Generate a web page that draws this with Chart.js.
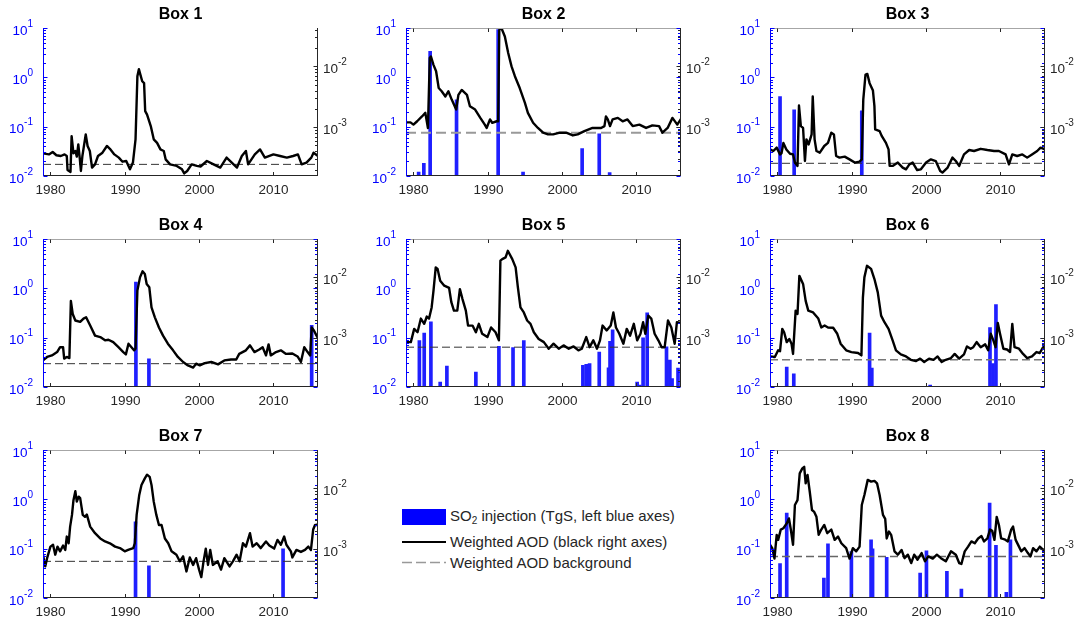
<!DOCTYPE html>
<html lang="en">
<head>
<meta charset="UTF-8" />
<title>SO2 injection and weighted AOD - Box 1 to 8</title>
<style>
  body {
    margin: 0;
    background: #fff;
    width: 1088px;
    height: 621px;
    position: relative;
    overflow: hidden;
    font-family: "Liberation Sans", Arial, Helvetica, sans-serif;
  }
  canvas { position: absolute; }
  .key { position: absolute; left: 402px; width: 44px; }
  .lbl {
    position: absolute;
    left: 450px;
    font-size: 15px;
    line-height: 18px;
    color: #262626;
    white-space: nowrap;
  }
  .lbl sub { font-size: 10px; vertical-align: -3px; line-height: 0; }
</style>
</head>
<body>
  <div class="key" style="top:509px;height:16px;background:#0000ff;"></div>
  <div class="lbl" style="top:507px;">SO<sub>2</sub> injection (TgS, left blue axes)</div>
  <div class="key" style="top:541px;height:2px;background:#000;"></div>
  <div class="lbl" style="top:533px;">Weighted AOD (black right axes)</div>
  <svg class="key" style="top:558px;height:8px;" width="44" height="8">
    <line x1="0" y1="4.5" x2="44" y2="4.5" stroke="#999" stroke-width="1.5" stroke-dasharray="10 4" />
  </svg>
  <div class="lbl" style="top:554px;">Weighted AOD background</div>

<script src="https://cdn.jsdelivr.net/npm/chart.js"></script>
<script>
  // tick labels
  const yearTicks = [1980, 1990, 2000, 2010];
  const leftExps = [-2, -1, 0, 1];     // SO2 axis, 10^-2 .. 10^1 TgS
  const rightExps = [-3, -2];          // AOD axis labels
  const mantissas = [1, 2, 3, 4, 5, 6, 7, 8, 9];

  // weighted AOD, [year, AOD]
  const box1Aod = [[1979.0,3.7e-4],[1979.8,3.56e-4],[1980.3,3.9e-4],[1980.8,3.45e-4],[1981.4,3.35e-4],[1981.9,3.56e-4],[1982.2,3.35e-4],[1982.3,1.97e-4],[1982.7,1.83e-4],[1982.85,7.1e-4],[1983.1,3.7e-4],[1983.35,4.05e-4],[1983.55,3.27e-4],[1983.75,5.2e-4],[1983.95,3.03e-4],[1984.1,1.9e-4],[1984.3,3.35e-4],[1984.75,7.6e-4],[1985.0,4.9e-4],[1985.3,4.05e-4],[1985.6,2.16e-4],[1986.0,2.44e-4],[1986.4,3.35e-4],[1987.0,3.8e-4],[1987.6,4.9e-4],[1988.0,4.4e-4],[1988.6,3.56e-4],[1989.2,3.15e-4],[1989.7,2.7e-4],[1990.2,2.77e-4],[1990.7,2.02e-4],[1991.1,2.61e-4],[1991.45,6.3e-4],[1991.7,6.9e-3],[1991.9,9.0e-3],[1992.1,7.3e-3],[1992.35,5.7e-3],[1992.6,5.3e-3],[1992.75,1.83e-3],[1993.0,1.61e-3],[1993.5,1.04e-3],[1993.9,6.3e-4],[1994.35,5.5e-4],[1994.8,4.3e-4],[1995.25,4.05e-4],[1995.5,2.95e-4],[1996.1,2.44e-4],[1997.0,2.3e-4],[1997.7,2.02e-4],[1998.0,1.73e-4],[1998.4,1.9e-4],[1999.0,2.44e-4],[1999.7,2.3e-4],[2000.2,2.25e-4],[2001.05,2.77e-4],[2001.95,2.44e-4],[2002.85,2.16e-4],[2003.7,3.15e-4],[2004.4,2.61e-4],[2005.1,2.16e-4],[2005.75,3.35e-4],[2006.3,4.05e-4],[2006.6,2.44e-4],[2007.5,3.56e-4],[2008.2,4.3e-4],[2008.85,3.15e-4],[2010.0,3.56e-4],[2010.9,3.35e-4],[2011.8,3.15e-4],[2012.65,3.35e-4],[2013.3,3.56e-4],[2013.8,2.44e-4],[2014.45,2.61e-4],[2015.1,3.15e-4],[2015.4,3.8e-4],[2016.0,3.35e-4]];
  const box2Aod = [[1979.0,1.2e-3],[1979.6,1.2e-3],[1980.0,1.1e-3],[1980.5,1.25e-3],[1981.15,1.5e-3],[1981.6,1.72e-3],[1981.95,9.7e-4],[1982.2,1.38e-2],[1982.35,1.46e-2],[1982.7,1.06e-2],[1983.05,8.3e-3],[1983.4,4.4e-3],[1983.8,3.9e-3],[1984.3,3.2e-3],[1984.7,3.9e-3],[1985.15,2.84e-3],[1985.75,1.95e-3],[1986.05,3.4e-3],[1986.5,4.1e-3],[1987.2,3.4e-3],[1987.6,2.21e-3],[1988.3,1.95e-3],[1989.0,1.42e-3],[1989.6,1.1e-3],[1989.85,9.7e-4],[1990.3,1.34e-3],[1990.6,1.18e-3],[1991.2,1.25e-3],[1991.4,1.25e-3],[1991.55,3.99e-2],[1991.85,4.25e-2],[1992.3,3.1e-2],[1992.75,1.66e-2],[1993.2,1.0e-2],[1993.65,6.9e-3],[1994.3,4.4e-3],[1995.0,2.5e-3],[1995.4,1.72e-3],[1996.1,1.18e-3],[1996.75,9.7e-4],[1997.45,8.1e-4],[1998.1,7.6e-4],[1998.8,7.6e-4],[1999.7,8.1e-4],[2000.55,8.1e-4],[2001.45,7.3e-4],[2002.1,7.6e-4],[2003.0,8.6e-4],[2004.1,9.7e-4],[2005.25,9.7e-4],[2005.7,1.04e-3],[2005.9,1.5e-3],[2006.15,1.34e-3],[2006.45,1.04e-3],[2006.8,1.34e-3],[2007.5,1.42e-3],[2008.15,1.25e-3],[2008.8,1.34e-3],[2009.5,1.04e-3],[2010.4,1.1e-3],[2011.3,9.7e-4],[2012.15,1.07e-3],[2013.05,1.04e-3],[2013.5,8.1e-4],[2014.2,9.7e-4],[2014.85,1.42e-3],[2015.5,1.1e-3],[2016.0,1.37e-3]];
  const box3Aod = [[1979.0,4.3e-4],[1979.45,4.05e-4],[1979.9,4.6e-4],[1980.35,3.56e-4],[1980.55,3.7e-4],[1980.8,5.5e-4],[1981.2,4.3e-4],[1981.7,3.65e-4],[1982.1,3.56e-4],[1982.35,2.61e-4],[1982.7,2.3e-4],[1982.9,2.27e-3],[1983.15,1.04e-3],[1983.45,9.7e-4],[1983.7,2.77e-4],[1983.9,6.3e-4],[1984.2,5.2e-4],[1984.6,7.6e-4],[1984.75,3.2e-3],[1985.0,6.3e-4],[1985.25,4.05e-4],[1985.7,3.8e-4],[1986.3,4.9e-4],[1986.8,5.5e-4],[1987.25,8.1e-4],[1987.6,7.6e-4],[1987.9,3.35e-4],[1988.35,3.15e-4],[1989.05,3.27e-4],[1989.7,2.95e-4],[1990.4,2.61e-4],[1991.05,2.7e-4],[1991.35,2.95e-4],[1991.55,2.84e-3],[1991.85,7.3e-3],[1992.1,7.5e-3],[1992.4,5.3e-3],[1992.85,4.0e-3],[1993.05,2.21e-3],[1993.15,9.2e-4],[1993.75,8.6e-4],[1994.05,7.1e-4],[1994.6,5.5e-4],[1994.95,4.3e-4],[1995.1,2.3e-4],[1995.5,2.3e-4],[1996.2,2.61e-4],[1996.85,2.16e-4],[1997.3,2.02e-4],[1997.75,2.44e-4],[1998.2,2.61e-4],[1998.8,1.97e-4],[1999.3,2.02e-4],[2000.0,2.61e-4],[2000.65,2.95e-4],[2001.3,2.77e-4],[2001.9,1.9e-4],[2002.2,1.79e-4],[2002.9,2.16e-4],[2003.55,3.15e-4],[2004.0,2.77e-4],[2004.45,2.3e-4],[2005.1,3.56e-4],[2005.8,4.2e-4],[2006.45,4.05e-4],[2007.35,4.4e-4],[2008.25,4.2e-4],[2009.15,4.05e-4],[2009.8,4.05e-4],[2010.7,3.56e-4],[2011.15,2.44e-4],[2011.6,3.56e-4],[2012.25,3.35e-4],[2012.95,3.56e-4],[2013.6,3.15e-4],[2014.25,3.56e-4],[2014.95,4.05e-4],[2015.4,4.6e-4],[2016.0,4.3e-4]];
  const box4Aod = [[1979.0,4.3e-4],[1979.55,4.9e-4],[1980.2,5.2e-4],[1980.9,5.9e-4],[1981.3,7.1e-4],[1981.7,7.1e-4],[1981.85,4.6e-4],[1982.2,4.9e-4],[1982.55,4.7e-4],[1982.75,4.1e-3],[1983.0,2.5e-3],[1983.35,1.95e-3],[1984.0,1.85e-3],[1984.45,2.1e-3],[1984.8,2.21e-3],[1985.35,1.61e-3],[1986.0,1.1e-3],[1986.7,1.04e-3],[1987.35,9.2e-4],[1987.8,9.4e-4],[1988.45,8.6e-4],[1989.15,7.1e-4],[1989.8,5.9e-4],[1990.15,5.4e-4],[1990.5,8.1e-4],[1990.9,7.1e-4],[1991.25,6.3e-4],[1991.45,6.7e-4],[1991.7,6.05e-3],[1992.05,1.0e-2],[1992.4,1.26e-2],[1992.7,1.14e-2],[1992.95,7.8e-3],[1993.3,6.9e-3],[1993.6,3.2e-3],[1994.05,2.2e-3],[1994.6,1.5e-3],[1995.15,1.1e-3],[1995.8,8.1e-4],[1996.5,6.3e-4],[1997.15,4.9e-4],[1997.85,4.05e-4],[1998.5,3.56e-4],[1999.2,3.27e-4],[1999.6,3.8e-4],[2000.1,3.56e-4],[2000.75,3.87e-4],[2001.65,4.05e-4],[2002.55,3.7e-4],[2003.4,4.3e-4],[2004.3,4.45e-4],[2005.0,4.45e-4],[2005.4,5.5e-4],[2006.3,6.3e-4],[2006.85,7.6e-4],[2007.45,5.9e-4],[2008.1,6.5e-4],[2008.55,7.1e-4],[2009.0,5.2e-4],[2009.35,7.9e-4],[2009.65,5.2e-4],[2010.35,5.9e-4],[2011.0,6.3e-4],[2011.7,5.5e-4],[2012.55,5.6e-4],[2013.25,5.0e-4],[2013.7,4.05e-4],[2014.15,7.1e-4],[2014.6,5.9e-4],[2014.95,5.2e-4],[2015.15,1.5e-3],[2015.45,1.34e-3],[2015.8,1.1e-3],[2016.0,1.0e-3]];
  const box5Aod = [[1979.0,8.6e-4],[1979.65,8.6e-4],[1980.1,1.42e-3],[1980.55,1.25e-3],[1981.0,2.1e-3],[1981.45,1.72e-3],[1981.8,2.27e-3],[1982.1,2.1e-3],[1982.45,3.2e-3],[1982.7,6.05e-3],[1983.0,1.46e-2],[1983.25,1.38e-2],[1983.6,8.8e-3],[1984.15,7.3e-3],[1984.8,6.7e-3],[1985.1,3.9e-3],[1985.45,2.84e-3],[1985.9,2.84e-3],[1986.25,6.4e-3],[1986.6,4.4e-3],[1987.05,2.84e-3],[1987.35,1.61e-3],[1987.95,1.61e-3],[1988.4,1.25e-3],[1988.8,1.72e-3],[1989.25,1.18e-3],[1989.95,1.04e-3],[1990.45,1.5e-3],[1991.05,1.25e-3],[1991.5,9.2e-4],[1991.7,1.88e-2],[1991.95,2.0e-2],[1992.4,2.13e-2],[1992.7,2.74e-2],[1993.3,2.0e-2],[1993.75,1.46e-2],[1994.05,6.9e-3],[1994.4,3.2e-3],[1994.85,2.65e-3],[1995.3,1.95e-3],[1995.75,1.72e-3],[1996.2,1.25e-3],[1996.85,9.7e-4],[1997.55,8.6e-4],[1998.2,6.7e-4],[1998.85,8.1e-4],[1999.55,6.7e-4],[2000.2,7.6e-4],[2000.9,6.7e-4],[2001.55,7.3e-4],[2002.2,6.3e-4],[2002.65,6.7e-4],[2003.25,1.04e-3],[2003.7,7.1e-4],[2004.2,9.2e-4],[2004.7,6.7e-4],[2005.1,9.2e-4],[2005.45,1.61e-3],[2006.0,1.34e-3],[2006.55,1.61e-3],[2006.9,2.65e-3],[2007.25,1.5e-3],[2007.7,1.18e-3],[2008.25,8.1e-4],[2008.7,1.42e-3],[2009.15,1.1e-3],[2009.65,1.72e-3],[2010.1,9.2e-4],[2010.55,1.18e-3],[2010.9,1.83e-3],[2011.2,1.18e-3],[2011.6,2.35e-3],[2012.0,2.1e-3],[2012.45,1.18e-3],[2012.95,9.2e-4],[2013.4,7.1e-4],[2013.8,7.1e-4],[2014.25,1.95e-3],[2014.7,1.5e-3],[2015.15,8.1e-4],[2015.45,1.83e-3],[2016.0,1.78e-3]];
  const box6Aod = [[1979.0,5.0e-4],[1979.65,4.9e-4],[1980.1,6.3e-4],[1980.35,6.1e-4],[1980.65,1.42e-3],[1980.9,1.25e-3],[1981.25,8.6e-4],[1981.6,9.7e-4],[1981.9,8.1e-4],[1982.1,5.5e-4],[1982.45,2.84e-3],[1982.7,2.5e-3],[1982.95,1.06e-2],[1983.25,8.8e-3],[1983.45,7.8e-3],[1983.8,4.1e-3],[1984.15,2.84e-3],[1984.8,2.65e-3],[1985.5,2.1e-3],[1985.9,1.5e-3],[1986.35,1.61e-3],[1986.8,1.5e-3],[1987.5,1.48e-3],[1988.05,1.18e-3],[1988.5,8.1e-4],[1989.25,6.3e-4],[1989.95,5.9e-4],[1990.85,5.7e-4],[1991.3,5.2e-4],[1991.5,4.7e-3],[1991.7,1.0e-2],[1992.05,1.55e-2],[1992.6,1.38e-2],[1993.05,9.4e-3],[1993.5,5.67e-3],[1993.95,2.35e-3],[1994.4,1.83e-3],[1994.95,1.42e-3],[1995.5,9.2e-4],[1995.95,6.3e-4],[1996.6,5.4e-4],[1997.3,5.0e-4],[1997.95,4.4e-4],[1998.65,4.2e-4],[1999.2,4.6e-4],[1999.75,4.05e-4],[2000.4,4.6e-4],[2001.0,4.4e-4],[2001.55,5.0e-4],[2002.1,4.05e-4],[2002.65,4.4e-4],[2003.35,4.7e-4],[2003.85,5.5e-4],[2004.45,4.6e-4],[2005.1,5.4e-4],[2005.5,7.3e-4],[2006.0,6.7e-4],[2006.35,7.1e-4],[2006.8,8.6e-4],[2007.35,7.1e-4],[2007.95,7.9e-4],[2008.35,6.3e-4],[2008.7,1.18e-3],[2009.05,9.2e-4],[2009.35,7.1e-4],[2009.65,1.78e-3],[2009.95,1.18e-3],[2010.4,6.7e-4],[2010.9,6.5e-4],[2011.3,5.9e-4],[2011.6,1.72e-3],[2011.9,7.1e-4],[2012.5,6.7e-4],[2013.05,5.5e-4],[2013.6,4.7e-4],[2014.25,5.0e-4],[2014.85,5.9e-4],[2015.3,5.7e-4],[2015.75,7.1e-4],[2016.0,7.0e-4]];
  const box7Aod = [[1979.0,8.1e-4],[1979.3,5.2e-4],[1979.55,7.1e-4],[1980.0,1.1e-3],[1980.35,1.18e-3],[1980.65,8.1e-4],[1980.95,1.1e-3],[1981.3,9.2e-4],[1981.7,1.15e-3],[1982.0,9.7e-4],[1982.2,1.61e-3],[1982.45,1.25e-3],[1982.65,2.35e-3],[1982.9,3.66e-3],[1983.1,6.4e-3],[1983.35,9.0e-3],[1983.55,6.05e-3],[1983.8,7.3e-3],[1984.0,6.9e-3],[1984.35,3.66e-3],[1984.65,3.4e-3],[1984.9,3.7e-3],[1985.35,2.35e-3],[1986.0,1.83e-3],[1986.7,1.5e-3],[1987.35,1.34e-3],[1988.0,1.25e-3],[1988.7,1.1e-3],[1989.35,1.04e-3],[1990.0,9.2e-4],[1990.45,9.7e-4],[1991.15,1.04e-3],[1991.35,1.25e-3],[1991.6,3.66e-3],[1991.95,7.8e-3],[1992.25,1.14e-2],[1992.7,1.46e-2],[1993.0,1.68e-2],[1993.35,1.55e-2],[1993.6,1.14e-2],[1993.9,6.05e-3],[1994.25,3.66e-3],[1994.6,2.5e-3],[1994.95,2.5e-3],[1995.4,1.5e-3],[1995.85,1.25e-3],[1996.3,9.2e-4],[1996.95,8.1e-4],[1997.4,6.3e-4],[1997.85,7.6e-4],[1998.3,4.3e-4],[1998.75,7.3e-4],[1999.2,5.5e-4],[1999.6,7.1e-4],[2000.0,4.6e-4],[2000.3,3.47e-4],[2000.6,6.3e-4],[2000.9,1.02e-3],[2001.2,5.5e-4],[2001.5,9.7e-4],[2001.85,5.5e-4],[2002.5,6.3e-4],[2002.95,4.6e-4],[2003.4,7.1e-4],[2004.1,5.2e-4],[2004.55,6.3e-4],[2005.05,8.1e-4],[2005.45,6.3e-4],[2005.9,1.25e-3],[2006.3,1.1e-3],[2006.85,1.83e-3],[2007.2,1.1e-3],[2007.75,1.25e-3],[2008.3,1.04e-3],[2009.0,1.34e-3],[2009.45,1.15e-3],[2010.1,1.02e-3],[2010.55,1.42e-3],[2011.0,1.18e-3],[2011.45,1.61e-3],[2011.75,1.18e-3],[2012.35,9.2e-4],[2012.55,7.3e-4],[2013.1,9.7e-4],[2013.7,9.0e-4],[2014.25,9.7e-4],[2014.7,1.1e-3],[2015.05,9.7e-4],[2015.35,2.1e-3],[2015.6,2.5e-3],[2015.8,2.5e-3],[2016.0,2.6e-3]];
  const box8Aod = [[1979.0,1.18e-3],[1979.3,1.04e-3],[1979.6,7.0e-4],[1979.9,1.72e-3],[1980.1,1.42e-3],[1980.45,2.1e-3],[1980.8,2.21e-3],[1981.25,2.65e-3],[1981.55,3.2e-3],[1981.8,2.1e-3],[1982.1,1.18e-3],[1982.35,5.33e-3],[1982.7,6.4e-3],[1983.0,1.77e-2],[1983.35,2.13e-2],[1983.6,2.26e-2],[1983.8,1.21e-2],[1984.05,1.66e-2],[1984.35,8.8e-3],[1984.65,4.4e-3],[1984.95,4.1e-3],[1985.25,3.4e-3],[1985.55,1.72e-3],[1985.9,2.1e-3],[1986.3,2.5e-3],[1986.7,1.83e-3],[1987.25,2.1e-3],[1987.7,1.42e-3],[1988.15,1.61e-3],[1988.6,1.25e-3],[1989.25,1.04e-3],[1989.7,7.0e-4],[1990.15,1.04e-3],[1990.6,9.2e-4],[1991.05,1.1e-3],[1991.35,5.33e-3],[1991.7,7.8e-3],[1992.15,1.38e-2],[1992.6,1.29e-2],[1993.05,1.33e-2],[1993.4,1.21e-2],[1993.75,7.8e-3],[1994.2,3.66e-3],[1994.5,3.15e-3],[1994.7,1.5e-3],[1995.0,1.95e-3],[1995.3,1.72e-3],[1995.75,9.2e-4],[1996.2,8.1e-4],[1996.7,9.7e-4],[1997.1,7.1e-4],[1997.55,8.1e-4],[1998.0,5.9e-4],[1998.4,8.1e-4],[1998.85,6.7e-4],[1999.4,8.6e-4],[1999.85,6.3e-4],[2000.3,7.6e-4],[2000.9,7.0e-4],[2001.45,8.1e-4],[2002.0,7.1e-4],[2002.65,6.3e-4],[2003.35,9.2e-4],[2004.0,8.1e-4],[2004.45,5.9e-4],[2004.75,5.7e-4],[2005.2,9.2e-4],[2005.65,1.1e-3],[2006.1,1.34e-3],[2006.55,1.25e-3],[2007.0,1.5e-3],[2007.45,1.64e-3],[2007.8,1.34e-3],[2008.25,1.5e-3],[2008.6,2.1e-3],[2008.9,2.0e-3],[2009.2,1.42e-3],[2009.5,3.4e-3],[2009.8,2.5e-3],[2010.1,1.5e-3],[2010.55,1.45e-3],[2011.0,1.34e-3],[2011.45,2.1e-3],[2011.7,2.35e-3],[2012.05,1.42e-3],[2012.5,1.1e-3],[2012.8,9.2e-4],[2013.25,1.04e-3],[2013.7,8.6e-4],[2014.05,7.6e-4],[2014.4,1.04e-3],[2014.85,9.2e-4],[2015.3,1.1e-3],[2015.75,9.7e-4],[2016.0,1.0e-3]];

  // SO2 injections, [year, TgS]
  const box1So2 = [];
  const box2So2 = [[1980.7,0.012],[1981.4,0.018],[1982.25,3.4],[1985.8,0.35],[1991.4,9.4],[1994.75,0.012],[2002.7,0.036],[2005.0,0.072],[2006.4,0.0117]];
  const box3So2 = [[1980.35,0.41],[1982.25,0.22],[1991.35,0.21]];
  const box4So2 = [[1991.5,1.34],[1993.25,0.0375],[2015.15,0.178]];
  const box5So2 = [[1980.8,0.088],[1981.45,0.124],[1982.35,0.21],[1983.6,0.0126],[1984.5,0.0267],[1988.4,0.02],[1991.5,0.067],[1993.4,0.063],[1994.85,0.088],[2002.8,0.0275],[2003.25,0.029],[2003.7,0.03],[2005.0,0.051],[2006.25,0.0246],[2006.45,0.085],[2006.8,0.145],[2010.1,0.0126],[2010.45,0.011],[2010.9,0.1],[2011.45,0.32],[2014.05,0.065],[2014.5,0.035],[2014.8,0.0148],[2015.6,0.0243]];
  const box6So2 = [[1981.25,0.0254],[1982.2,0.0186],[1986.3,0.0103],[1992.4,0.124],[1992.7,0.0243],[1994.75,0.0103],[2000.55,0.011],[2008.6,0.16],[2009.0,0.03],[2009.4,0.47]];
  const box7So2 = [[1991.45,0.35],[1993.25,0.045],[2011.3,0.1]];
  const box8So2 = [[1980.35,0.0497],[1981.25,0.53],[1986.25,0.0254],[1986.8,0.126],[1989.95,0.088],[1992.6,0.152],[1992.8,0.1],[1994.7,0.067],[1999.2,0.032],[2000.05,0.091],[2002.8,0.0347],[2004.75,0.0152],[2008.55,0.84],[2009.4,0.117],[2010.8,0.013],[2011.35,0.152]];

  // background AOD per box
  const bgAod = [2.44e-4, 8.1e-4, 2.54e-4, 3.8e-4, 7.1e-4, 4.4e-4, 6.3e-4, 7.6e-4];

  const boxNames = ['Box 1', 'Box 2', 'Box 3', 'Box 4', 'Box 5', 'Box 6', 'Box 7', 'Box 8'];
  const aodSeries = [box1Aod, box2Aod, box3Aod, box4Aod, box5Aod, box6Aod, box7Aod, box8Aod];
  const so2Series = [box1So2, box2So2, box3So2, box4So2, box5So2, box6So2, box7So2, box8So2];

  // layout of the panels (canvas top-left corner) and dashed line look
  const panels = [
    { left: 3,   top: 0,   boxed: false, dash: '#333', dw: 1 },
    { left: 366, top: 0,   boxed: true,  dash: '#999', dw: 2 },
    { left: 730, top: 0,   boxed: true,  dash: '#333', dw: 1 },
    { left: 3,   top: 211, boxed: true,  dash: '#333', dw: 1 },
    { left: 366, top: 211, boxed: true,  dash: '#333', dw: 1 },
    { left: 730, top: 211, boxed: true,  dash: '#777', dw: 1.5 },
    { left: 3,   top: 422, boxed: true,  dash: '#333', dw: 1 },
    { left: 730, top: 422, boxed: true,  dash: '#666', dw: 1.5 }
  ];

  const FONT = '"Liberation Sans", Arial, Helvetica, sans-serif';
  const BLUE = '#0000ff';
  const DARK = '#262626';

  // 10^n label with a raised exponent
  function drawPow(ctx, exp, x, y, align, color) {
    const sup = String(exp);
    ctx.font = '13.5px ' + FONT;
    const wb = ctx.measureText('10').width;
    ctx.font = '10px ' + FONT;
    const ws = ctx.measureText(sup).width;
    const x0 = align === 'right' ? x - wb - ws : x;
    ctx.fillStyle = color;
    ctx.textAlign = 'left';
    ctx.textBaseline = 'middle';
    ctx.font = '13.5px ' + FONT;
    ctx.fillText('10', x0, y + 3);
    ctx.font = '10px ' + FONT;
    ctx.fillText(sup, x0 + wb, y - 4);
  }

  // matlab style axes: inward ticks, blue left axis, black right axis
  const axesPlugin = {
    id: 'matAxes',
    afterDraw(chart, args, opts) {
      const { ctx, chartArea: a } = chart;
      const sx = chart.scales.x, sl = chart.scales.yL, sr = chart.scales.yR;
      const L = Math.round(a.left) + 0.5, R = Math.round(a.right) - 0.5;
      const T = Math.round(a.top) + 0.5, B = Math.round(a.bottom) - 0.5;
      const seg = (x1, y1, x2, y2, c) => {
        ctx.strokeStyle = c;
        ctx.beginPath(); ctx.moveTo(x1, y1); ctx.lineTo(x2, y2); ctx.stroke();
      };
      ctx.save();
      ctx.lineWidth = 1;

      if (opts.boxed) seg(L, T, R, T, '#a6a6a6');
      seg(L, B, R, B, DARK);

      yearTicks.forEach(v => {
        const px = Math.round(sx.getPixelForValue(v)) + 0.5;
        seg(px, B, px, B - 3.5, DARK);
        if (opts.boxed) seg(px, T, px, T + 3.5, DARK);
        ctx.font = '13.5px ' + FONT;
        ctx.fillStyle = DARK;
        ctx.textAlign = 'center';
        ctx.textBaseline = 'middle';
        ctx.fillText(String(v), px, a.bottom + 14);
      });

      // left (SO2) axis
      seg(L, T - 0.5, L, B + 0.5, BLUE);
      leftExps.forEach(e => {
        mantissas.forEach(m => {
          const v = m * Math.pow(10, e);
          if (v < sl.min * 0.999 || v > sl.max * 1.001) return;
          const py = Math.round(sl.getPixelForValue(v)) + 0.5;
          const len = m === 1 ? 4 : 2.5;
          seg(L, py, L + len, py, BLUE);
          if (opts.boxed) seg(R, py, R - len, py, BLUE);
        });
        drawPow(ctx, e, a.left - 10, sl.getPixelForValue(Math.pow(10, e)), 'right', BLUE);
      });

      // right (AOD) axis
      seg(R, T - 0.5, R, B + 0.5, DARK);
      [-4, -3, -2].forEach(e => {
        mantissas.forEach(m => {
          const v = m * Math.pow(10, e);
          if (v < sr.min || v > sr.max) return;
          const py = Math.round(sr.getPixelForValue(v)) + 0.5;
          seg(R, py, R - (m === 1 ? 4 : 2.5), py, DARK);
        });
      });
      rightExps.forEach(e => {
        drawPow(ctx, e, a.right + 5, sr.getPixelForValue(Math.pow(10, e)), 'left', DARK);
      });
      ctx.restore();
    }
  };

  const toXY = arr => arr.map(([x, y]) => ({ x, y }));

  panels.forEach((p, i) => {
    const cv = document.createElement('canvas');
    cv.width = 357;
    cv.height = 198;
    cv.style.left = p.left + 'px';
    cv.style.top = p.top + 'px';
    cv.style.width = '357px';
    cv.style.height = '198px';
    document.body.appendChild(cv);

    const datasets = [
      {
        type: 'line',
        data: toXY(aodSeries[i]),
        yAxisID: 'yR',
        borderColor: '#000',
        borderWidth: 2.4,
        borderJoinStyle: 'round',
        pointRadius: 0,
        tension: 0,
        order: 1
      },
      {
        type: 'line',
        data: [{ x: 1979, y: bgAod[i] }, { x: 2016, y: bgAod[i] }],
        yAxisID: 'yR',
        borderColor: p.dash,
        borderWidth: p.dw,
        borderDash: p.dw > 1.5 ? [10, 5] : [8, 4],
        pointRadius: 0,
        order: 2
      }
    ];
    if (so2Series[i].length) {
      datasets.push({
        type: 'bar',
        data: toXY(so2Series[i]),
        yAxisID: 'yL',
        backgroundColor: '#1f1fff',
        borderWidth: 0,
        barThickness: 3,
        grouped: false,
        order: 3
      });
    }

    new Chart(cv, {
      type: 'line',
      data: { datasets },
      options: {
        responsive: false,
        animation: false,
        devicePixelRatio: 1,
        layout: { padding: { left: 40, right: 42, top: 0, bottom: 22 } },
        plugins: {
          legend: { display: false },
          tooltip: { enabled: false },
          title: {
            display: true,
            text: boxNames[i],
            color: '#000',
            font: { family: FONT, size: 16, weight: 'bold', lineHeight: 1.2 },
            padding: { top: 5, bottom: 4 }
          },
          matAxes: { boxed: p.boxed }
        },
        scales: {
          x: { type: 'linear', min: 1979, max: 2016, offset: false, display: false },
          yL: { type: 'logarithmic', position: 'left', min: 0.01, max: 10, display: false },
          yR: { type: 'logarithmic', position: 'right', min: 1.57e-4, max: 0.0425, display: false }
        }
      },
      plugins: [axesPlugin]
    });
  });
</script>
</body>
</html>
